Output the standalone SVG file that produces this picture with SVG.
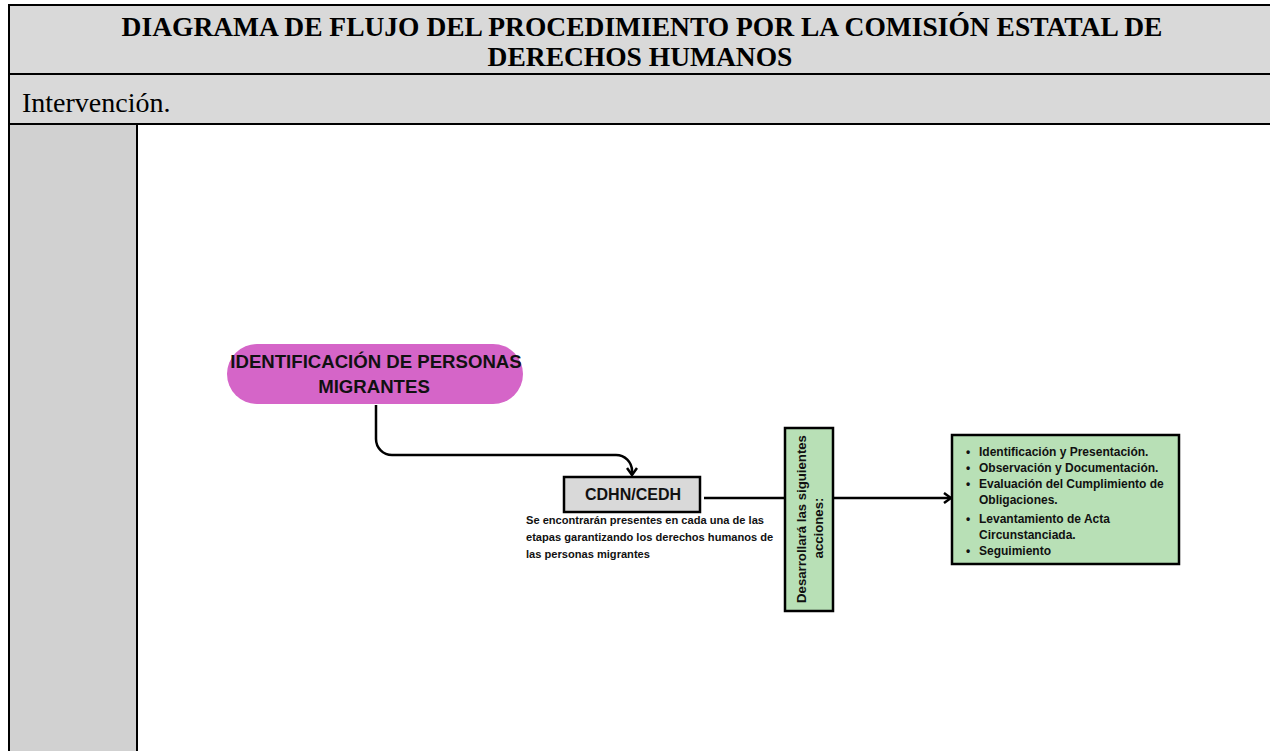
<svg xmlns="http://www.w3.org/2000/svg" width="1270" height="751" viewBox="0 0 1270 751">
  <defs>
    <style>
      .title { font-family: "Liberation Serif", "Times New Roman", serif; font-weight: bold; font-size: 27.5px; fill: #000; }
      .sub { font-family: "Liberation Serif", "Times New Roman", serif; font-size: 28px; fill: #000; }
      .sans { font-family: "Liberation Sans", Arial, sans-serif; font-weight: bold; fill: #111; }
      .grid { stroke: #000; stroke-width: 2; fill: none; }
      .conn { stroke: #000; stroke-width: 2.5; fill: none; }
      .box { stroke: #000; stroke-width: 2.5; }
    </style>
    <marker id="chev" viewBox="0 0 12 12" refX="10" refY="6" markerWidth="12" markerHeight="12" markerUnits="userSpaceOnUse" orient="auto">
      <polyline points="3,1 10,6 3,11" fill="none" stroke="#000" stroke-width="2.5" stroke-linejoin="miter"/>
    </marker>
  </defs>

  <rect x="0" y="0" width="1270" height="751" fill="#fff"/>

  <g id="table">
    <rect x="9" y="5" width="1265" height="119" fill="#d9d9d9"/>
    <rect x="9" y="124" width="128" height="630" fill="#d1d1d1"/>
    <line class="grid" x1="9" y1="5" x2="1270" y2="5"/>
    <line class="grid" x1="9" y1="74" x2="1270" y2="74"/>
    <line class="grid" x1="9" y1="124" x2="1270" y2="124"/>
    <line class="grid" x1="9" y1="4" x2="9" y2="751"/>
    <line class="grid" x1="137" y1="124" x2="137" y2="751"/>
    <text class="title" x="642" y="36" text-anchor="middle">DIAGRAMA DE FLUJO DEL PROCEDIMIENTO POR LA COMISIÓN ESTATAL DE</text>
    <text class="title" x="640" y="66" text-anchor="middle">DERECHOS HUMANOS</text>
    <text class="sub" x="22" y="112">Intervención.</text>
  </g>

  <g id="connectors">
    <path class="conn" d="M376,405 V439 A16,16 0 0 0 392,455 H616 A16,16 0 0 1 632,471 V475" marker-end="url(#chev)"/>
    <line class="conn" x1="704" y1="498" x2="785" y2="498"/>
    <line class="conn" x1="833" y1="498" x2="951" y2="498" marker-end="url(#chev)"/>
  </g>

  <g id="node-identificacion">
    <rect x="227" y="344" width="296" height="60" rx="30" ry="30" fill="#d565c8"/>
    <text class="sans" x="376" y="368" font-size="18.6" text-anchor="middle">IDENTIFICACIÓN DE PERSONAS</text>
    <text class="sans" x="374" y="393" font-size="18.6" text-anchor="middle">MIGRANTES</text>
  </g>

  <g id="node-cdhn">
    <rect class="box" x="564" y="477" width="136" height="35" fill="#d9d9d9"/>
    <text class="sans" x="633" y="500" font-size="16" text-anchor="middle">CDHN/CEDH</text>
    <text class="sans" font-size="11.1">
      <tspan x="526" y="524">Se encontrarán presentes en cada una de las</tspan>
      <tspan x="526" y="541">etapas garantizando los derechos humanos de</tspan>
      <tspan x="526" y="558">las personas migrantes</tspan>
    </text>
  </g>

  <g id="node-acciones">
    <rect class="box" x="785" y="428" width="48" height="183" fill="#b8e0b6"/>
    <text class="sans" font-size="13.2" text-anchor="middle" transform="translate(806,519) rotate(-90)">Desarrollará las siguientes</text>
    <text class="sans" font-size="13.2" text-anchor="middle" transform="translate(823,528) rotate(-90)">acciones:</text>
  </g>

  <g id="node-lista">
    <rect class="box" x="952" y="435" width="227" height="129" fill="#b8e0b6"/>
    <g class="sans" font-size="12">
      <text x="966" y="456">•</text><text x="979" y="456">Identificación y Presentación.</text>
      <text x="966" y="472">•</text><text x="979" y="472"> Observación y Documentación.</text>
      <text x="966" y="488">•</text><text x="979" y="488">Evaluación del Cumplimiento de</text>
      <text x="979" y="504">Obligaciones.</text>
      <text x="966" y="523">•</text><text x="979" y="523"> Levantamiento de Acta</text>
      <text x="979" y="539">Circunstanciada.</text>
      <text x="966" y="555">•</text><text x="979" y="555">Seguimiento</text>
    </g>
  </g>
</svg>
